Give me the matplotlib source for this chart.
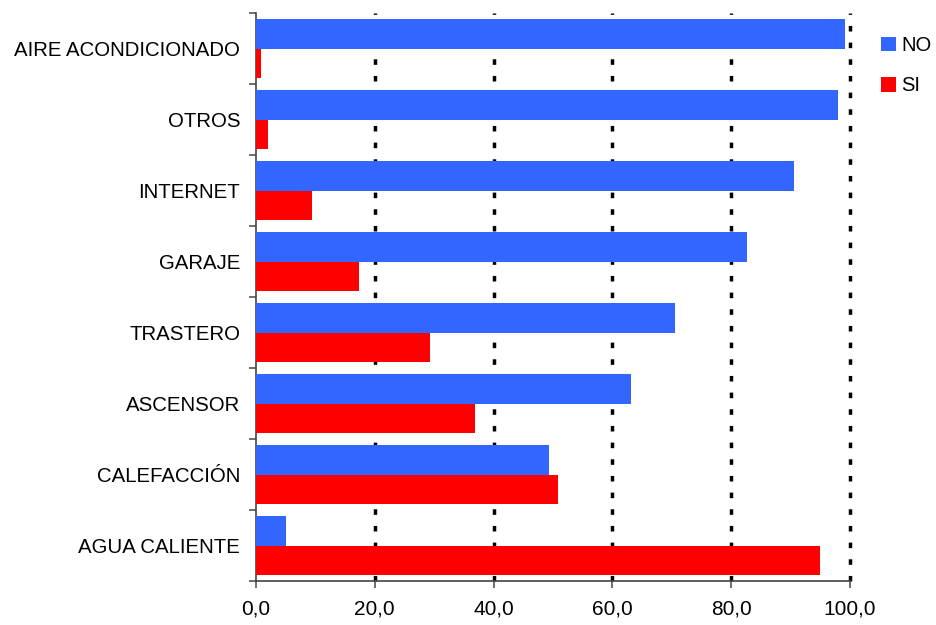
import matplotlib
matplotlib.use("Agg")
import matplotlib.pyplot as plt
import numpy as np

categories = ["AIRE ACONDICIONADO", "OTROS", "INTERNET", "GARAJE",
              "TRASTERO", "ASCENSOR", "CALEFACCIÓN", "AGUA CALIENTE"]
no_values = [99.2, 98.0, 90.5, 82.7, 70.6, 63.1, 49.3, 5.1]
si_values = [0.8, 2.1, 9.5, 17.4, 29.3, 36.9, 50.8, 94.9]
series_names = ["NO", "SI"]
xticks = [0, 20, 40, 60, 80, 100]
xtick_labels = ["0,0", "20,0", "40,0", "60,0", "80,0", "100,0"]

plt.rcParams['font.family'] = ['Liberation Sans', 'DejaVu Sans']
fig = plt.figure(figsize=(9.37, 6.25), dpi=100)
ax = fig.add_axes([256/937, 1-581/625, (850-256)/937, (581-13)/625])

n = len(categories)
ypos = np.arange(n)[::-1]  # first category at top
h = 0.41
ax.barh(ypos + h/2, no_values, height=h, color="#3366FF", label=series_names[0], zorder=3)
ax.barh(ypos - h/2, si_values, height=h, color="#FF0000", label=series_names[1], zorder=3)

ax.set_xlim(0, 100)
ax.set_ylim(-0.5, n - 0.5)
ax.set_xticks(xticks)
ax.set_xticklabels(xtick_labels, fontsize=15)
ax.set_yticks(ypos)
ax.set_yticklabels(categories, fontsize=14.7)
ax.set_yticks(np.arange(n + 1) - 0.5, minor=True)
ax.tick_params(axis='y', which='major', length=0, pad=11.5)
ax.tick_params(axis='y', which='minor', length=5, width=1.2, color='#555555')
ax.tick_params(axis='x', which='major', length=5, width=1.2, color='#555555', pad=8)

for x in xticks[1:]:
    ax.axvline(x, color='black', lw=2.5, linestyle=(0, (1.6, 3.2)), zorder=1,
               clip_on=False)

for s in ['top', 'right']:
    ax.spines[s].set_visible(False)
ax.spines['left'].set_color('#444444')
ax.spines['bottom'].set_color('#444444')
ax.spines['left'].set_linewidth(1.2)
ax.spines['bottom'].set_linewidth(1.2)

fig.legend(loc='upper left', bbox_to_anchor=(873/937, 1-28/625), frameon=False,
           fontsize=14.5, handlelength=0.75, handleheight=0.75, handletextpad=0.25,
           labelspacing=1.05, borderaxespad=0)

fig.savefig("out.png", dpi=100)
